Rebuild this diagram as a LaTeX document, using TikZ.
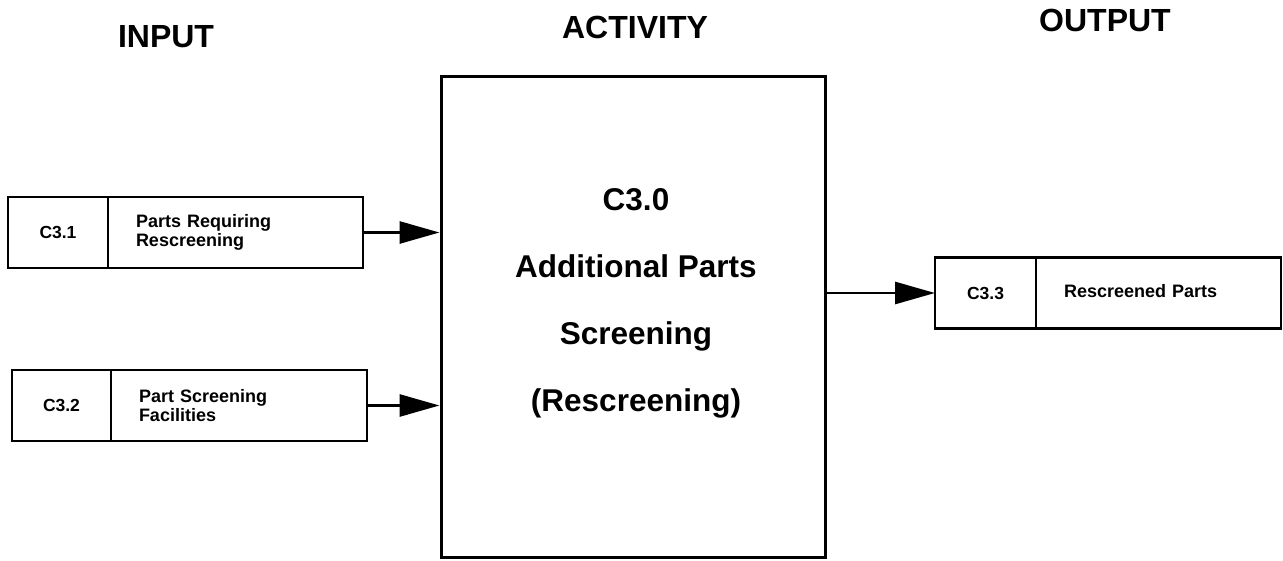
\documentclass[tikz,border=0pt]{standalone}
\usepackage{fontspec}
\setmainfont{Liberation Sans}
\usepackage{tikz}
\usetikzlibrary{calc,positioning,arrows.meta}

\tikzset{
	codebox/.style={draw, line width=2.6pt, outer sep=0pt, minimum height=71pt, inner sep=0pt, font=\bfseries\fontsize{17.5}{19}\selectfont},
	descbox/.style={draw, line width=2.6pt, outer sep=0pt, minimum height=71pt, align=left, inner xsep=28pt, font=\bfseries\fontsize{18}{18.5}\selectfont},
	heading/.style={font=\bfseries\fontsize{32}{38}\selectfont},
	flow/.style={line width=2.8pt, -{Triangle[length=40pt,width=22pt]}}
}

\begin{document}
\begin{tikzpicture}[x=1pt, y=-1pt]
			\useasboundingbox (0,0) rectangle (1283,561);

			\node[heading] (input) at (166,37) {INPUT};
			\node[heading] (activity) at (635,27) {ACTIVITY};
			\node[heading] (output) at (1105,20) {OUTPUT};

			% activity box
			\node[draw, line width=3pt, minimum width=384pt, minimum height=480pt] (act) at (633,317) {};
			\node[align=center, font=\bfseries\fontsize{31.5}{67}\selectfont] (actlbl) at (636,303) {C3.0\\Additional Parts\\Screening\\(Rescreening)};

			% inputs
			\node[codebox, minimum width=100pt] (c31) at (58,232.5) {C3.1};
			\node[descbox, text width=199pt, right=0pt of c31] (d31) {Parts Requiring\\Rescreening};
			\node[codebox, minimum width=99pt] (c32) at (61.5,405.5) {C3.2};
			\node[descbox, text width=200pt, right=0pt of c32] (d32) {Part Screening\\Facilities};

			% output
			\node[codebox, minimum width=101pt] (c33) at (985.5,293) {C3.3};
			\node[descbox, text width=189pt, right=0pt of c33] (d33) {\raisebox{5pt}{Rescreened Parts}};

			\draw[flow] (d31.east) -- (d31.east -| act.west);
			\draw[flow] (d32.east) -- (d32.east -| act.west);
			\draw[flow] (act.east |- c33.west) -- (c33.west);

\end{tikzpicture}
\end{document}
